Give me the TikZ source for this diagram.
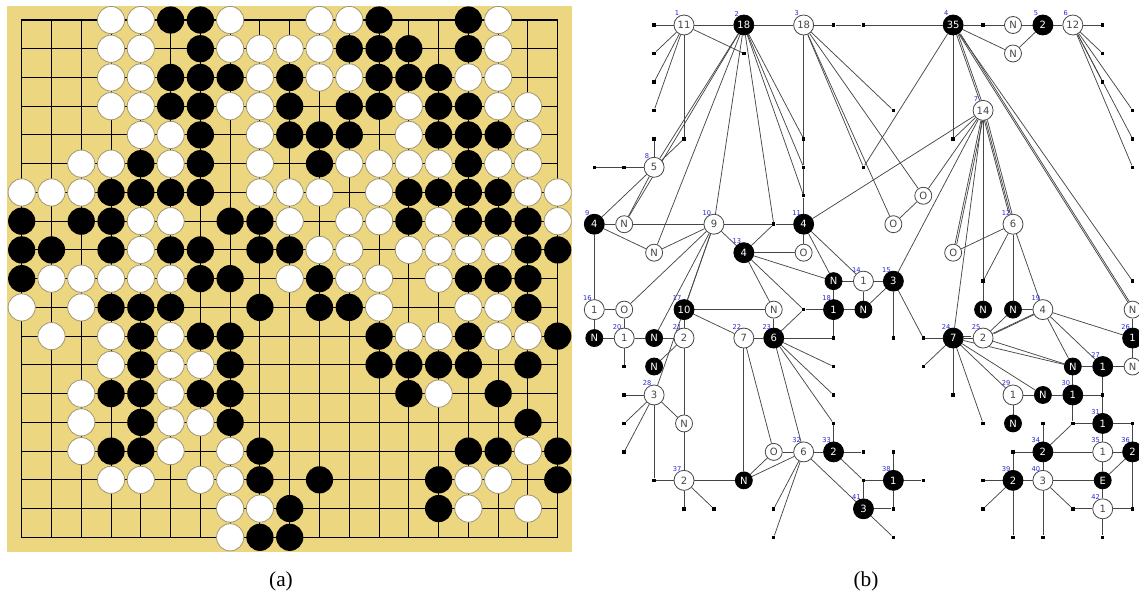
\documentclass[tikz,border=0pt]{standalone}
\usepackage{fontspec}
\setmainfont{Liberation Serif}
\newfontfamily\nodefont{DejaVu Sans}
\definecolor{boardc}{RGB}{236,214,128}
\definecolor{stoneedge}{RGB}{160,150,115}
\definecolor{lblue}{RGB}{40,40,215}
\definecolor{gline}{RGB}{70,70,70}
\pgfdeclarelayer{bottom}
\pgfdeclarelayer{edges}
\pgfsetlayers{bottom,edges,main}
\tikzset{
  gridline/.style={black, line width=0.8pt, line cap=rect},
  wstone/.style={fill=white, draw=stoneedge, line width=0.6pt},
  wn/.style={circle, draw=gline, line width=0.6pt, fill=white, minimum size=15pt, inner sep=0pt, text=gline, font=\nodefont\fontsize{7.5}{8}\selectfont},
  bn/.style={wn, fill=black, draw=black, text=white},
  wl/.style={wn, minimum size=12.75pt},
  bl/.style={bn, minimum size=12.75pt},
  gdot/.style={rectangle, fill=black, minimum size=2.6pt, inner sep=0pt},
  gedge/.style={draw=gline, line width=0.55pt},
  lab/.style={font=\nodefont\fontsize{5}{5}\selectfont, text=lblue, inner sep=0pt},
  captext/.style={font=\fontsize{16}{18}\selectfont, inner sep=0pt}
}
\newcommand\GW[4]{\node[wn] (v#1-#2) at (#1,#2) {#3}; \node[lab] (l#1-#2) at ([xshift=-5.25pt,yshift=8.6pt]v#1-#2.center) {#4};}
\newcommand\GB[4]{\node[bn] (v#1-#2) at (#1,#2) {#3}; \node[lab] (l#1-#2) at ([xshift=-5.25pt,yshift=8.6pt]v#1-#2.center) {#4};}
\begin{document}
\begin{tikzpicture}[x=0.75pt,y=-0.75pt]
\useasboundingbox (0,0) rectangle (1139,599);
\begin{pgfonlayer}{bottom}
\fill[white] (0,0) rectangle (1139,599);
\end{pgfonlayer}
% ---------------- (a) Go board ----------------
\fill[boardc] (7,6) rectangle (572,552);
\begin{scope}[shift={(21.7,20)},x=22.335pt,y=-21.555pt]
\foreach \k in {0,...,18} {\draw[gridline] (\k,0) -- (\k,18); \draw[gridline] (0,\k) -- (18,\k);}
% black stones: row / columns
\foreach \r/\cs in {1/{6,7,13,16}, 2/{7,12,13,14,16}, 3/{6,7,8,10,13,14,15}, 4/{6,7,10,12,13,15,16},
  5/{7,10,11,12,15,16,17}, 6/{5,7,11,16}, 7/{4,5,6,7,14,15,16,17}, 8/{1,3,4,8,9,14,16,17,18},
  9/{1,2,4,6,7,9,10,18,19}, 10/{1,7,8,11,16,17,18}, 11/{4,5,6,9,11,12,18}, 12/{5,7,8,13,16,19},
  13/{5,8,13,14,15,16,18}, 14/{4,5,7,8,14,17}, 15/{5,8,18}, 16/{4,5,9,16,17,19},
  17/{9,11,15,19}, 18/{10,15}, 19/{9,10}}
  {\foreach \c in \cs {\fill[black] (\c-1,\r-1) circle[radius=10.2pt];}}
% white stones
\foreach \r/\cs in {1/{4,5,8,11,12,17}, 2/{4,5,8,9,10,11,17}, 3/{4,5,9,11,12,16,17}, 4/{4,5,8,9,14,17,18},
  5/{5,6,9,14,18}, 6/{3,4,6,9,12,13,14,15,17,18}, 7/{1,2,3,9,10,11,13,18,19}, 8/{5,6,10,12,13,15,19},
  9/{5,11,12,14,15,16,17}, 10/{2,3,4,5,6,10,12,13,15}, 11/{1,3,13,16,17}, 12/{2,4,6,14,15,17,18},
  13/{4,6,7}, 14/{3,6,15}, 15/{3,6,7}, 16/{3,6,8,18}, 17/{4,5,7,8,16,17}, 18/{8,9,16,18}, 19/{8}}
  {\foreach \c in \cs {\filldraw[wstone] (\c-1,\r-1) circle[radius=10.2pt];}}
\end{scope}
\node[captext] (capa) at (281,581) {(a)};
\node[captext] (capb) at (866,581) {(b)};
% ---------------- (b) graph ----------------
\begin{scope}[shift={(594.3,25)},x=22.43pt,y=-21.345pt]
\GW{3}{0}{11}{1}
\GB{5}{0}{18}{2}
\GW{7}{0}{18}{3}
\GB{12}{0}{35}{4}
\GB{15}{0}{2}{5}
\GW{16}{0}{12}{6}
\GW{13}{3}{14}{7}
\GW{2}{5}{5}{8}
\GB{0}{7}{4}{9}
\GW{4}{7}{9}{10}
\GB{7}{7}{4}{11}
\GW{14}{7}{6}{12}
\GB{5}{8}{4}{13}
\GW{9}{9}{1}{14}
\GB{10}{9}{3}{15}
\GW{0}{10}{1}{16}
\GB{3}{10}{10}{17}
\GB{8}{10}{1}{18}
\GW{15}{10}{4}{19}
\GW{1}{11}{1}{20}
\GW{3}{11}{2}{21}
\GW{5}{11}{7}{22}
\GB{6}{11}{6}{23}
\GB{12}{11}{7}{24}
\GW{13}{11}{2}{25}
\GB{18}{11}{1}{26}
\GB{17}{12}{1}{27}
\GW{2}{13}{3}{28}
\GW{14}{13}{1}{29}
\GB{16}{13}{1}{30}
\GB{17}{14}{1}{31}
\GW{7}{15}{6}{32}
\GB{8}{15}{2}{33}
\GB{15}{15}{2}{34}
\GW{17}{15}{1}{35}
\GB{18}{15}{2}{36}
\GW{3}{16}{2}{37}
\GB{10}{16}{1}{38}
\GB{14}{16}{2}{39}
\GW{15}{16}{3}{40}
\GB{9}{17}{3}{41}
\GW{17}{17}{1}{42}
\foreach \i/\j/\t in {14/0/N,14/1/N,1/7/N,2/8/N,6/10/N,3/14/N,18/10/N,18/12/N,11/6/O,10/7/O,7/8/O,12/8/O,1/10/O,6/15/O}
  {\node[wl] (v\i-\j) at (\i,\j) {\t};}
\foreach \i/\j/\t in {8/9/N,9/10/N,0/11/N,2/11/N,2/12/N,5/16/N,13/10/N,14/10/N,16/12/N,15/13/N,14/14/N,17/16/E}
  {\node[bl] (v\i-\j) at (\i,\j) {\t};}
\foreach \i/\j in {2/0,8/0,9/0,13/0,17/0,2/1,5/1,17/1,2/2,17/2,2/3,10/3,18/3,2/4,3/4,7/4,12/4,18/4,
  0/5,1/5,7/5,9/5,18/5,7/6,6/7,13/9,18/9,7/10,8/11,10/11,11/11,1/12,8/12,11/12,1/13,8/13,12/13,17/13,
  1/14,8/14,13/14,15/14,16/14,18/14,1/15,9/15,10/15,14/15,2/16,9/16,11/16,13/16,3/17,4/17,6/17,10/17,
  13/17,16/17,18/17,6/18,10/18,14/18,15/18,17/18}
  {\node[gdot] (v\i-\j) at (\i,\j) {};}
\begin{pgfonlayer}{edges}
\foreach \a/\b in {3-0/2-0, 3-0/5-0, 5-0/7-0, 7-0/8-0, 8-0/9-0, 9-0/12-0, 12-0/13-0, 13-0/14-0, 14-0/15-0,
  15-0/16-0, 16-0/17-0, 12-0/14-1, 14-1/15-0,
  3-0/2-1, 3-0/2-2, 3-0/2-3, 3-0/3-4, 3-0/5-1,
  2-4/2-5, 3-4/2-5, 0-5/1-5, 1-5/2-5, 2-5/0-7, 2-5/1-7,
  5-0/2-5, 5-0/1-7, 5-0/2-8, 5-0/4-7, 5-0/7-4, 5-0/7-5, 5-0/7-6, 5-0/6-7,
  7-0/7-4, 7-4/7-5, 7-5/7-6, 7-6/7-7,
  7-0/10-3, 7-0/9-5, 7-0/10-7, 7-0/11-6,
  12-0/9-5, 12-0/12-4, 12-0/13-3, 12-0/18-9, 12-0/18-10,
  16-0/17-1, 16-0/17-2, 16-0/18-3, 16-0/18-4, 16-0/18-5,
  13-3/12-4, 13-3/7-7, 13-3/11-6, 13-3/10-9, 13-3/12-8, 13-3/13-9, 13-3/12-11, 13-3/14-7,
  10-7/11-6,
  14-7/12-8, 14-7/13-9, 14-7/14-10, 14-7/15-10,
  13-9/13-10,
  0-7/1-7, 1-7/4-7, 4-7/6-7, 6-7/7-7, 0-7/2-8, 2-8/4-7, 0-7/0-10,
  4-7/5-8, 4-7/1-10, 4-7/2-11, 4-7/3-10, 4-7/2-13,
  6-7/5-8, 7-7/7-8, 5-8/7-8, 7-7/8-9, 7-7/9-9,
  5-8/8-9, 5-8/6-10, 5-8/7-10,
  8-9/9-9, 9-9/10-9, 8-9/8-10, 9-9/9-10, 8-10/9-10, 9-10/10-9,
  7-10/8-10, 7-10/6-11, 8-10/8-11, 8-11/6-11,
  10-9/10-11, 10-9/11-11, 11-11/12-11, 11-12/12-11,
  3-10/6-10, 6-10/6-11, 3-10/5-11, 5-11/6-11, 3-10/3-11,
  0-10/1-10, 0-10/0-11, 0-11/1-11, 1-11/2-11, 2-11/3-11, 1-10/1-11, 1-11/1-12,
  3-11/2-12, 3-11/3-14, 3-14/3-16, 2-13/3-14,
  2-13/1-13, 2-13/1-14, 2-13/1-15, 2-13/2-16, 2-16/3-16,
  3-16/5-16, 3-16/3-17, 3-16/4-17,
  5-11/5-16, 5-11/6-15, 6-15/5-16,
  6-11/8-12, 6-11/8-13, 6-11/8-14, 6-11/7-15, 8-14/8-15,
  6-15/7-15, 7-15/8-15, 8-15/9-15,
  7-15/5-16, 7-15/6-17, 7-15/6-18, 7-15/9-17,
  8-15/9-16, 9-16/10-16, 10-16/11-16, 10-15/10-16, 9-16/9-17, 9-17/10-17, 10-17/10-16, 9-17/10-18,
  12-11/13-11, 12-11/12-13, 12-11/13-14, 12-11/14-13, 12-11/15-13, 12-11/16-12,
  13-11/14-10, 13-11/15-10, 13-11/16-12,
  14-10/15-10,
  15-10/16-12, 15-10/17-12, 15-10/18-11,
  16-12/17-12, 17-12/18-12, 18-10/18-11, 18-11/18-12,
  16-12/16-13,
  14-13/15-13, 15-13/16-13, 16-13/17-13,
  17-12/17-13, 17-13/17-14,
  14-13/14-14,
  16-13/16-14, 16-14/17-14, 17-14/18-14,
  16-14/15-15, 15-14/15-15,
  17-14/17-15, 18-14/18-15,
  14-15/15-15, 14-15/14-16, 15-15/17-15, 17-15/18-15,
  15-15/15-16, 17-15/17-16, 18-15/17-16,
  13-16/14-16, 14-16/15-16, 15-16/17-16,
  14-16/13-17, 14-16/14-18, 15-16/15-18, 15-16/16-17,
  16-17/17-17, 17-17/18-17, 17-16/17-17, 17-17/17-18, 18-15/18-17}
  {\draw[gedge] (v\a) -- (v\b);}
% repeated (parallel) connectors
\foreach \a/\b in {12-0/13-3, 13-3/14-7, 12-11/13-11, 13-11/15-10, 13-3/12-8, 12-0/18-10}
  {\draw[gedge, transform canvas={xshift=1.3pt}] (v\a) -- (v\b);}
\foreach \a/\b in {13-3/14-7, 12-11/13-11}
  {\draw[gedge, transform canvas={xshift=-1.3pt, yshift=1pt}] (v\a) -- (v\b);}
\end{pgfonlayer}
\end{scope}
\end{tikzpicture}
\end{document}
